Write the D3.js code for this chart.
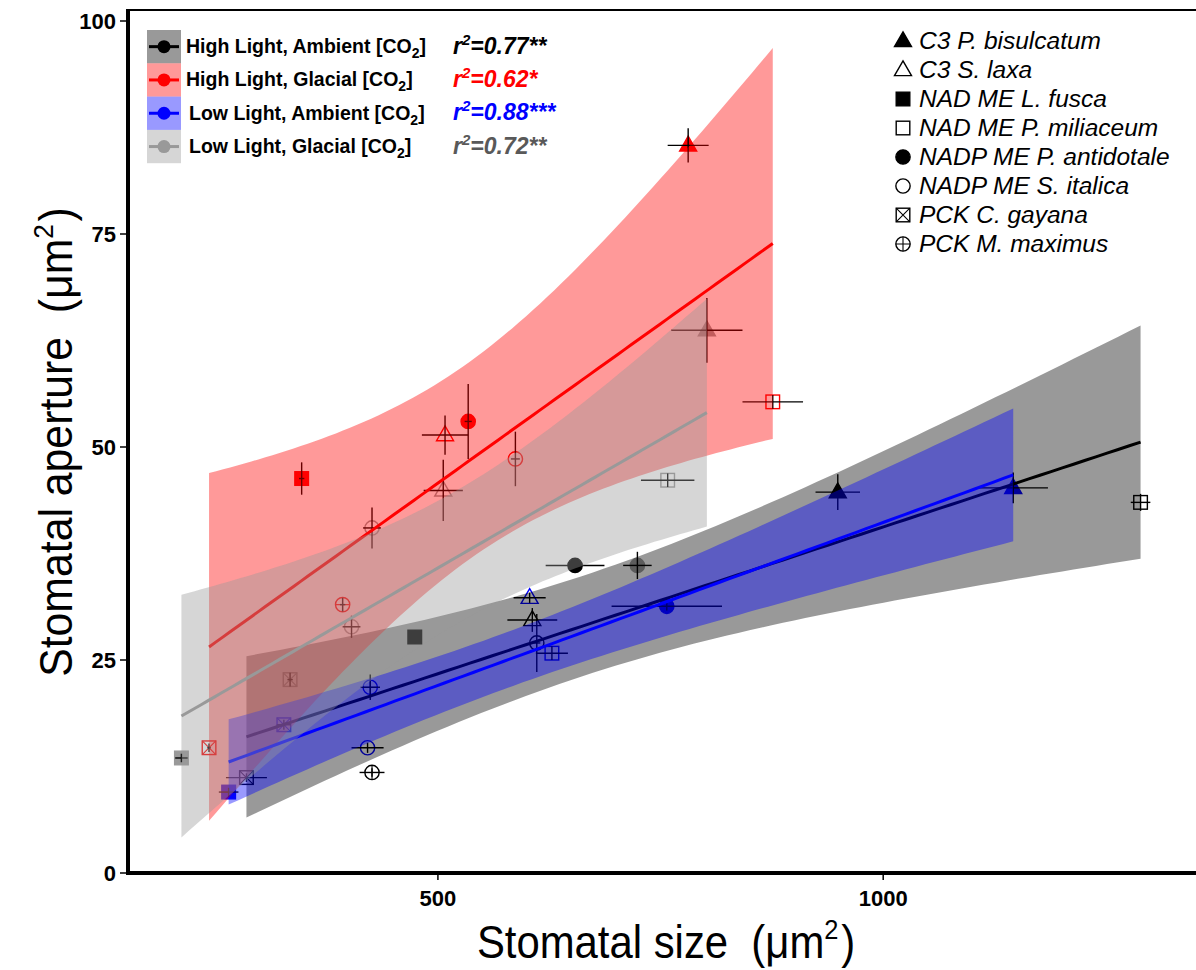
<!DOCTYPE html>
<html>
<head>
<meta charset="utf-8">
<script src="https://cdn.jsdelivr.net/npm/d3@7"></script>
<style>
  body { margin: 0; background: #fff; }
  svg { display: block; }
  text { white-space: pre; }
</style>
</head>
<body>
<div id="chart"></div>
<script>
// Grupos de tratamiento (orden de la leyenda y de dibujo)
const groups = ["High Light, Ambient", "High Light, Glacial", "Low Light, Ambient", "Low Light, Glacial"];
const r2Labels = ["0.77**", "0.62*", "0.88***", "0.72**"];

// Especies (mismo orden en todas las series)
const species = ["C3 P. bisulcatum", "C3 S. laxa", "NAD ME L. fusca", "NAD ME P. miliaceum",
                 "NADP ME P. antidotale", "NADP ME S. italica", "PCK C. gayana", "PCK M. maximus"];

// High Light, Ambient [CO2]
const hlAmbSize  = [949, 606, 474, 1289, 654, 611, 285, 426];
const hlAmbSizeE = [25, 28, 4, 11, 33, 4, 23, 14];
const hlAmbAp    = [44.7, 29.7, 27.7, 43.5, 36.1, 27.0, 11.2, 11.8];
const hlAmbApE   = [2.1, 1.4, 0.8, 1.0, 0.5, 3.4, 0.5, 0.5];

// High Light, Glacial [CO2]
const hlGlaSize  = [781, 508, 347, 876, 534, 587, 243, 393];
const hlGlaSizeE = [23, 26, 3, 34, 4, 5, 2, 3];
const hlGlaAp    = [85.4, 51.4, 46.3, 55.3, 53.0, 48.6, 14.7, 31.5];
const hlGlaApE   = [2.0, 2.3, 1.9, 0.8, 4.4, 3.2, 0.5, 0.8];

// Low Light, Ambient [CO2]
const llAmbSize  = [1146, 603, 265, 628, 757, 421, 327, 424];
const llAmbSizeE = [39, 18, 11, 18, 62, 18, 8, 11];
const llAmbAp    = [45.2, 32.3, 9.5, 25.8, 31.3, 14.7, 17.4, 21.8];
const llAmbApE   = [1.8, 0.6, 0.5, 0.8, 0.5, 0.6, 0.6, 1.5];

// Low Light, Glacial [CO2]
const llGlaSize  = [802, 506, 212, 758, 724, 426, 334, 403];
const llGlaSizeE = [40, 22, 7, 30, 16, 10, 3, 10];
const llGlaAp    = [63.7, 44.9, 13.5, 46.1, 36.1, 40.5, 22.7, 28.9];
const llGlaApE   = [3.8, 3.6, 0.5, 0.8, 1.6, 2.4, 0.8, 1.3];

const xTicks = [500, 1000];
const yTicks = [0, 25, 50, 75, 100];

// Estilos
const groupColors = ["#000000", "#ff0000", "#0000ff", "#999999"];
const r2Colors = ["#000000", "#ff0000", "#0000ff", "#595959"];
const shapes = ["triangle", "triangleOpen", "square", "squareOpen", "circle", "circleOpen", "squareX", "circlePlus"];

const seriesTable = [
    [hlAmbSize, hlAmbSizeE, hlAmbAp, hlAmbApE],
    [hlGlaSize, hlGlaSizeE, hlGlaAp, hlGlaApE],
    [llAmbSize, llAmbSizeE, llAmbAp, llAmbApE],
    [llGlaSize, llGlaSizeE, llGlaAp, llGlaApE]
].map((s, g) => s[0].map((v, i) => ({
    group: g, sp: i, x: v, xe: s[1][i], y: s[2][i], ye: s[3][i]
})));

const width = 1196, height = 970;
const FONT = "'Liberation Sans', Arial, sans-serif";

const x = d3.scaleLinear().domain([152, 1349]).range([128, 1194]);
const y = d3.scaleLinear().domain([0, 100]).range([873, 21]);

const svg = d3.select("#chart").append("svg")
    .attr("width", width)
    .attr("height", height);

/**
 * Dibuja un símbolo centrado en (0,0) dentro de g.
 */
function drawShape(g, shape, size, color) {
    const h = size / 2;
    const sw = 1.4;
    if (shape.startsWith("triangle")) {
        const th = size * 0.87;
        const d = `M0,${-th * 0.62}L${h},${th * 0.38}L${-h},${th * 0.38}Z`;
        g.append("path").attr("d", d)
            .attr("fill", shape === "triangle" ? color : "none")
            .attr("stroke", color).attr("stroke-width", sw);
    } else if (shape.startsWith("square")) {
        const s = size * 0.8, hs = s / 2;
        g.append("rect").attr("x", -hs).attr("y", -hs).attr("width", s).attr("height", s)
            .attr("fill", shape === "square" ? color : "none")
            .attr("stroke", color).attr("stroke-width", sw);
        if (shape === "squareX") {
            g.append("path").attr("d", `M${-hs},${-hs}L${hs},${hs}M${hs},${-hs}L${-hs},${hs}`)
                .attr("stroke", color).attr("stroke-width", 1.1);
        }
    } else {
        const r = size * 0.42;
        g.append("circle").attr("r", r)
            .attr("fill", shape === "circle" ? color : "none")
            .attr("stroke", color).attr("stroke-width", sw);
        if (shape === "circlePlus") {
            g.append("path").attr("d", `M${-r},0L${r},0M0,${-r}L0,${r}`)
                .attr("stroke", color).attr("stroke-width", 1.1);
        }
    }
}

// Puntos y barras de error (debajo de las bandas, como en ggplot)
const pts = svg.append("g");
seriesTable.forEach(series => {
    series.forEach(d => {
        const g = pts.append("g").attr("transform", `translate(${x(d.x)},${y(d.y)})`);
        drawShape(g, shapes[d.sp], 17, groupColors[d.group]);
    });
});
seriesTable.forEach(series => {
    series.forEach(d => {
        pts.append("line")
            .attr("x1", x(d.x - d.xe)).attr("x2", x(d.x + d.xe))
            .attr("y1", y(d.y)).attr("y2", y(d.y))
            .attr("stroke", "#000").attr("stroke-width", 1.4);
        pts.append("line")
            .attr("x1", x(d.x)).attr("x2", x(d.x))
            .attr("y1", y(d.y - d.ye)).attr("y2", y(d.y + d.ye))
            .attr("stroke", "#000").attr("stroke-width", 1.4);
    });
});

/**
 * Regresión lineal con intervalo de confianza del 95 %.
 */
function linearFit(data) {
    const n = data.length;
    const mx = d3.mean(data, d => d.x), my = d3.mean(data, d => d.y);
    const sxx = d3.sum(data, d => (d.x - mx) ** 2);
    const sxy = d3.sum(data, d => (d.x - mx) * (d.y - my));
    const b = sxy / sxx, a = my - b * mx;
    const sse = d3.sum(data, d => (d.y - (a + b * d.x)) ** 2);
    const s = Math.sqrt(sse / (n - 2));
    const t = 2.446912; // t(0.975, df = 6)
    const [x0, x1] = d3.extent(data, d => d.x);
    const grid = d3.range(81).map(i => x0 + (x1 - x0) * i / 80);
    return grid.map(xv => {
        const fitV = a + b * xv;
        const se = s * Math.sqrt(1 / n + (xv - mx) ** 2 / sxx);
        return { x: xv, fit: fitV, lo: fitV - t * se, hi: fitV + t * se };
    });
}

const area = d3.area().x(d => x(d.x)).y0(d => y(d.lo)).y1(d => y(d.hi));
const line = d3.line().x(d => x(d.x)).y(d => y(d.fit));

const smooth = svg.append("g");
seriesTable.forEach((series, g) => {
    const f = linearFit(series);
    smooth.append("path").attr("d", area(f))
        .attr("fill", groupColors[g]).attr("fill-opacity", 0.4);
    smooth.append("path").attr("d", line(f))
        .attr("fill", "none").attr("stroke", groupColors[g]).attr("stroke-width", 3);
});

// Marco y ejes
svg.append("line").attr("x1", 128).attr("x2", width).attr("y1", 10).attr("y2", 10)
    .attr("stroke", "#000").attr("stroke-width", 2);
svg.append("line").attr("x1", 128).attr("x2", 128).attr("y1", 9).attr("y2", 875)
    .attr("stroke", "#000").attr("stroke-width", 4);
svg.append("line").attr("x1", 126).attr("x2", width).attr("y1", 873).attr("y2", 873)
    .attr("stroke", "#000").attr("stroke-width", 4);

const yAxis = svg.append("g");
yTicks.forEach(v => {
    yAxis.append("line").attr("x1", 120).attr("x2", 127).attr("y1", y(v)).attr("y2", y(v))
        .attr("stroke", "#000").attr("stroke-width", 1.5);
    yAxis.append("text").attr("x", 116).attr("y", y(v) + 7.5)
        .attr("text-anchor", "end").attr("font-family", FONT).attr("font-weight", "bold")
        .attr("font-size", 22).text(v);
});
const xAxis = svg.append("g");
xTicks.forEach(v => {
    xAxis.append("line").attr("x1", x(v)).attr("x2", x(v)).attr("y1", 874).attr("y2", 880)
        .attr("stroke", "#000").attr("stroke-width", 1.5);
    xAxis.append("text").attr("x", x(v)).attr("y", 906)
        .attr("text-anchor", "middle").attr("font-family", FONT).attr("font-weight", "bold")
        .attr("font-size", 22).text(v);
});

// Títulos de ejes (letra algo estrecha mediante escala horizontal)
const xTitle = svg.append("text")
    .attr("transform", "translate(666,958) scale(0.91,1)")
    .attr("text-anchor", "middle").attr("font-family", FONT).attr("font-size", 46);
xTitle.append("tspan").text("Stomatal size  (\u03bcm");
xTitle.append("tspan").attr("dy", -19).attr("font-size", 28).text("2");
xTitle.append("tspan").attr("dy", 19).attr("dx", 3).text(")");

const yTitle = svg.append("text")
    .attr("transform", "translate(72,442) rotate(-90) scale(0.93,1)")
    .attr("text-anchor", "middle").attr("font-family", FONT).attr("font-size", 46);
yTitle.append("tspan").text("Stomatal aperture  (\u03bcm");
yTitle.append("tspan").attr("dy", -19).attr("font-size", 28).text("2");
yTitle.append("tspan").attr("dy", 19).attr("dx", 3).text(")");

// Leyenda de grupos (arriba a la izquierda)
const leg = svg.append("g");
const rowH = 33.3, legTop = 30;
groups.forEach((name, i) => {
    const cy = legTop + rowH * i + rowH / 2;
    leg.append("rect").attr("x", 147).attr("y", legTop + rowH * i).attr("width", 34).attr("height", rowH)
        .attr("fill", groupColors[i]).attr("fill-opacity", 0.4);
    leg.append("line").attr("x1", 149).attr("x2", 179).attr("y1", cy).attr("y2", cy)
        .attr("stroke", groupColors[i]).attr("stroke-width", 3);
    leg.append("circle").attr("cx", 164).attr("cy", cy).attr("r", 6.5).attr("fill", groupColors[i]);

    const t = leg.append("text").attr("x", i < 2 ? 186 : 189).attr("y", cy + 6.5)
        .attr("font-family", FONT).attr("font-weight", "bold").attr("font-size", 19.5);
    t.append("tspan").text(name + " [CO");
    t.append("tspan").attr("dy", 5).attr("font-size", 14).text("2");
    t.append("tspan").attr("dy", -5).text("]");

    const r = leg.append("text").attr("x", 453).attr("y", cy + 7)
        .attr("font-family", FONT).attr("font-weight", "bold").attr("font-style", "italic")
        .attr("font-size", 23).attr("fill", r2Colors[i]);
    r.append("tspan").text("r");
    r.append("tspan").attr("dy", -9).attr("font-size", 15).text("2");
    r.append("tspan").attr("dy", 9).text("=" + r2Labels[i]);
});

// Leyenda de especies (arriba a la derecha)
const leg2 = svg.append("g");
species.forEach((name, i) => {
    const cy = 41 + 29 * i;
    const g = leg2.append("g").attr("transform", `translate(903,${cy})`);
    drawShape(g, shapes[i], 17, "#000");
    leg2.append("text").attr("x", 919).attr("y", cy + 8)
        .attr("font-family", FONT).attr("font-style", "italic").attr("font-size", 24.5)
        .text(name);
});
</script>
</body>
</html>
